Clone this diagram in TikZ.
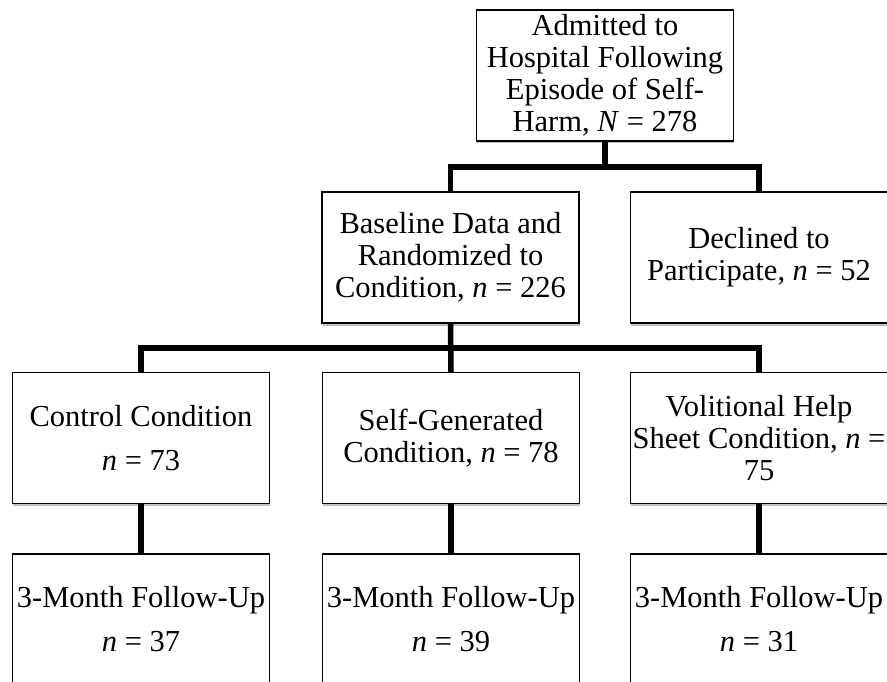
\documentclass[tikz,border=0pt]{standalone}
\usepackage{fontspec}
\setmainfont{Liberation Serif}
\usetikzlibrary{shadows}
\begin{document}
\begin{tikzpicture}[x=1pt,y=-1pt,
  box/.style={draw=black, line width=1.4pt, fill=white, rectangle,
    minimum width=257pt, minimum height=131pt, inner sep=0pt, align=center,
    font=\fontsize{30.5}{32}\selectfont,
    drop shadow={shadow xshift=0.8pt, shadow yshift=-2.5pt, fill=black, opacity=0.25}},
  conn/.style={draw=black, line width=5.5pt, line join=miter}]
\useasboundingbox (0,0) rectangle (887,682);
\clip (0,0) rectangle (887,682);
\fill[white] (0,0) rectangle (887,682);
% boxes
\node[box] (top)  at (605,75.5)  {Admitted to\\Hospital Following\\Episode of Self-\\Harm, \textit{N} = 278};
\node[box] (base) at (450.5,257.5) {Baseline Data and\\Randomized to\\Condition, \textit{n} = 226};
\node[box] (decl) at (759,257.5) {Declined to\\Participate, \textit{n} = 52};
\node[box] (ctrl) at (141,438) {Control Condition\\[12pt]\textit{n} = 73};
\node[box] (sg)   at (451,438) {Self-Generated\\Condition, \textit{n} = 78};
\node[box] (vol)  at (759,438) {Volitional Help\\Sheet Condition, \textit{n} =\\75};
\node[box] (fu1)  at (141,619.5) {3-Month Follow-Up\\[12pt]\textit{n} = 37};
\node[box] (fu2)  at (451,619.5) {3-Month Follow-Up\\[12pt]\textit{n} = 39};
\node[box] (fu3)  at (759,619.5) {3-Month Follow-Up\\[12pt]\textit{n} = 31};
% connectors
\coordinate (j1) at (605,167);
\coordinate (j2) at (451,348);
\draw[conn] (top.south) -- (j1);
\draw[conn] (base.north) |- (j1) -| (decl.north);
\draw[conn] (base.south) -- (sg.north);
\draw[conn] (ctrl.north) |- (j2) -| (vol.north);
\draw[conn] (ctrl.south) -- (fu1.north);
\draw[conn] (sg.south) -- (fu2.north);
\draw[conn] (vol.south) -- (fu3.north);
\end{tikzpicture}
\end{document}
